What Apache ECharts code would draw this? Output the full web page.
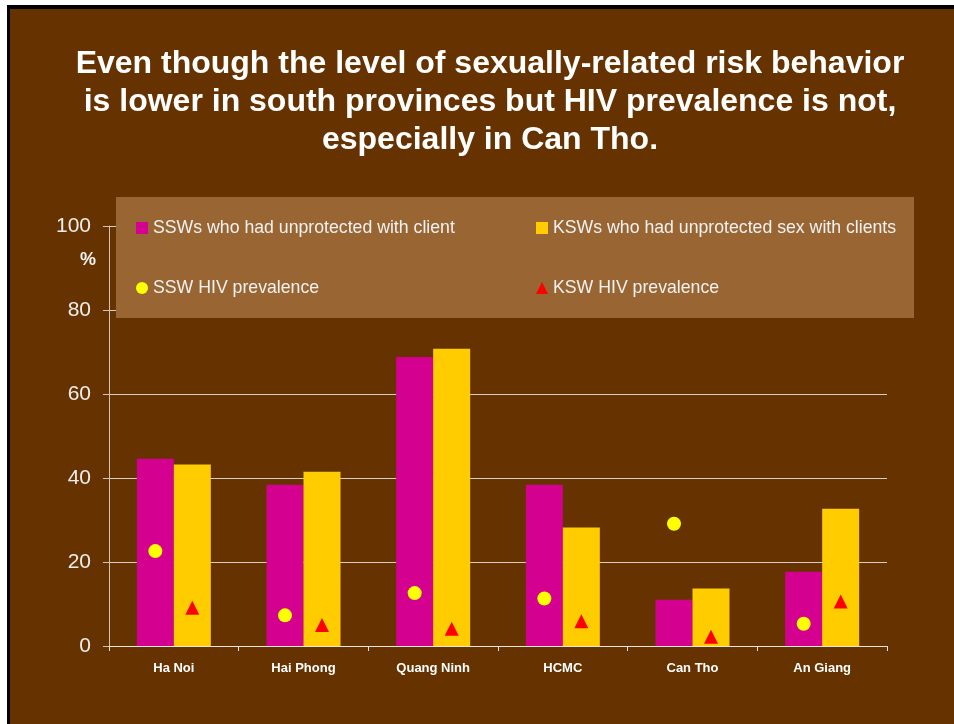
<!DOCTYPE html>
<html>
<head>
<meta charset="utf-8">
<script src="https://cdn.jsdelivr.net/npm/echarts@6/dist/echarts.min.js"></script>
<style>
  html, body { margin: 0; padding: 0; background: #fff; }
  .slide {
    position: absolute; left: 7px; top: 5px; right: 0; bottom: 0;
    background: #663300;
    border-left: 3px solid #000;
    border-top: 4px solid #000;
  }
  #chart { position: absolute; left: 0; top: 0; width: 954px; height: 724px; }
</style>
</head>
<body>
<div class="slide"></div>
<div id="chart"></div>
<script>
const FONT = 'Arial, "Liberation Sans", sans-serif'

const provinces = ['Ha Noi', 'Hai Phong', 'Quang Ninh', 'HCMC', 'Can Tho', 'An Giang']
const sswUnprotected = [44.6, 38.4, 68.8, 38.4, 11.0, 17.7]
const kswUnprotected = [43.2, 41.5, 70.8, 28.2, 13.7, 32.7]
const sswHiv = [22.6, 7.3, 12.6, 11.3, 29.1, 5.3]
const kswHiv = [9.1, 5.0, 4.1, 5.9, 2.2, 10.6]
const yTicks = [0, 20, 40, 60, 80, 100]

const names = [
  'SSWs who had unprotected with client',
  'KSWs who had unprotected sex with clients',
  'SSW HIV prevalence',
  'KSW HIV prevalence'
]

const chart = echarts.init(document.getElementById('chart'))

const legendBase = {
  orient: 'vertical',
  top: 219,
  padding: 0,
  itemWidth: 12,
  itemHeight: 12,
  itemGap: 42,
  textStyle: { color: '#f2f2f2', fontSize: 17.7, fontFamily: FONT },
  selectedMode: false
}

const option = {
  backgroundColor: 'transparent',
  animation: false,
  title: {
    text: 'Even though the level of sexually-related risk behavior\nis lower in south provinces but HIV prevalence is not,\nespecially in Can Tho.',
    left: 490,
    top: 45,
    padding: 0,
    textAlign: 'center',
    textStyle: { color: '#ffffff', fontSize: 32, fontWeight: 'bold', lineHeight: 38, fontFamily: FONT }
  },
  legend: [
    Object.assign({}, legendBase, {
      left: 136,
      data: [{ name: names[0], icon: 'rect' }, { name: names[2] }]
    }),
    Object.assign({}, legendBase, {
      left: 536,
      data: [{ name: names[1], icon: 'rect' }, { name: names[3] }]
    })
  ],
  graphic: [
    {
      type: 'rect',
      z: 3,
      shape: { x: 116, y: 197, width: 798, height: 121 },
      style: { fill: '#996633' }
    },
    {
      type: 'text',
      z: 5,
      x: 88,
      y: 260,
      style: {
        text: '%', fill: '#f2f2f2', font: 'bold 18px ' + FONT,
        textAlign: 'center', textVerticalAlign: 'middle'
      }
    }
  ],
  grid: { left: 109, right: 67, top: 226, bottom: 78 },
  xAxis: {
    type: 'category',
    data: provinces,
    axisLine: { lineStyle: { color: '#e8e4de', width: 1 } },
    axisTick: { show: true, length: 5, lineStyle: { color: '#e8e4de' } },
    axisLabel: { color: '#ffffff', fontSize: 13, fontWeight: 'bold', fontFamily: FONT, margin: 16 }
  },
  yAxis: {
    type: 'value',
    min: yTicks[0],
    max: yTicks[yTicks.length - 1],
    interval: 20,
    axisLine: { show: true, lineStyle: { color: '#cfc4b8' } },
    axisTick: { show: true, length: 6, lineStyle: { color: '#cfc4b8' } },
    axisLabel: { color: '#eeeeee', fontSize: 21, fontFamily: FONT, margin: 18 },
    splitLine: { show: true, lineStyle: { color: '#d6cec6', width: 1 } }
  },
  series: [
    {
      name: names[0],
      type: 'bar',
      data: sswUnprotected,
      barWidth: 37,
      barGap: '0%',
      itemStyle: { color: '#D4008F' }
    },
    {
      name: names[1],
      type: 'bar',
      data: kswUnprotected,
      barWidth: 37,
      barGap: '0%',
      itemStyle: { color: '#FFCC00' }
    },
    {
      name: names[2],
      type: 'scatter',
      data: sswHiv,
      symbol: 'circle',
      symbolSize: 14,
      symbolOffset: [-18.5, 0],
      z: 4,
      itemStyle: { color: '#FFFF00', opacity: 1 }
    },
    {
      name: names[3],
      type: 'scatter',
      data: kswHiv,
      symbol: 'triangle',
      symbolSize: 14,
      symbolOffset: [18.5, 0],
      z: 4,
      itemStyle: { color: '#FF0000', opacity: 1 }
    }
  ]
}

chart.setOption(option)
</script>
</body>
</html>
